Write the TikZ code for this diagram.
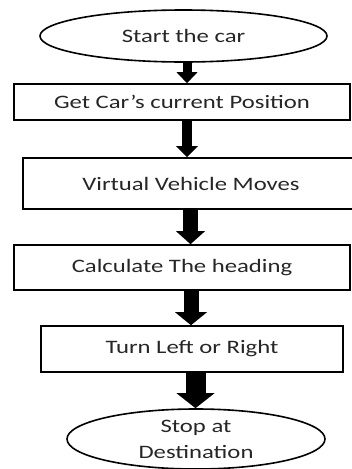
\documentclass[tikz,border=0pt]{standalone}
\usepackage{fontspec}
\setmainfont[FakeStretch=1.3]{Carlito}
\usetikzlibrary{arrows.meta,shapes.geometric}
\begin{document}
\begin{tikzpicture}[x=1pt,y=-1pt,
  every node/.style={font=\fontsize{19}{26}\selectfont, text=black!85, align=center, inner sep=0pt},
  stepbox/.style={draw=black, line width=1.6pt, minimum height=#1},
  terminal/.style={ellipse, draw=black, line width=1.6pt},
  flowarrow/.style n args={3}{draw=black, line width=#1,
    -{Triangle[width=#2, length=#3, line width=0pt]}}]
  \useasboundingbox (0,0) rectangle (352,469);

  % terminals
  \node[terminal, minimum width=287, minimum height=52] (start) at (183.5,36) {Start the car};
  \node[terminal, minimum width=258, minimum height=60] (stop) at (196,439) {Stop at\\Destination};

  % process steps
  \node[stepbox=36, minimum width=336] (pos) at (182,102) {Get Car’s current Position};
  \node[stepbox=51, minimum width=336] (move) at (191,183.5) {Virtual Vehicle Moves};
  \node[stepbox=45, minimum width=336] (head) at (182,267.5) {Calculate The heading};
  \node[stepbox=46, minimum width=302] (turn) at (192,349) {Turn Left or Right};

  % connectors
  \draw[flowarrow={9pt}{21pt}{11pt}] ([xshift=3.5]start.south) -- ([xshift=5]pos.north);
  \draw[flowarrow={10pt}{22pt}{11pt}] ([xshift=5]pos.south) -- ([xshift=-4]move.north);
  \draw[flowarrow={15pt}{29pt}{13pt}] ([xshift=-0.5]move.south) -- ([xshift=8.5]head.north);
  \draw[flowarrow={15pt}{32pt}{13pt}] ([xshift=9]head.south) -- ([xshift=-1]turn.north);
  \draw[flowarrow={20pt}{38pt}{15pt}] ([xshift=3.5]turn.south) -- ([xshift=-0.5]stop.north);
\end{tikzpicture}
\end{document}
